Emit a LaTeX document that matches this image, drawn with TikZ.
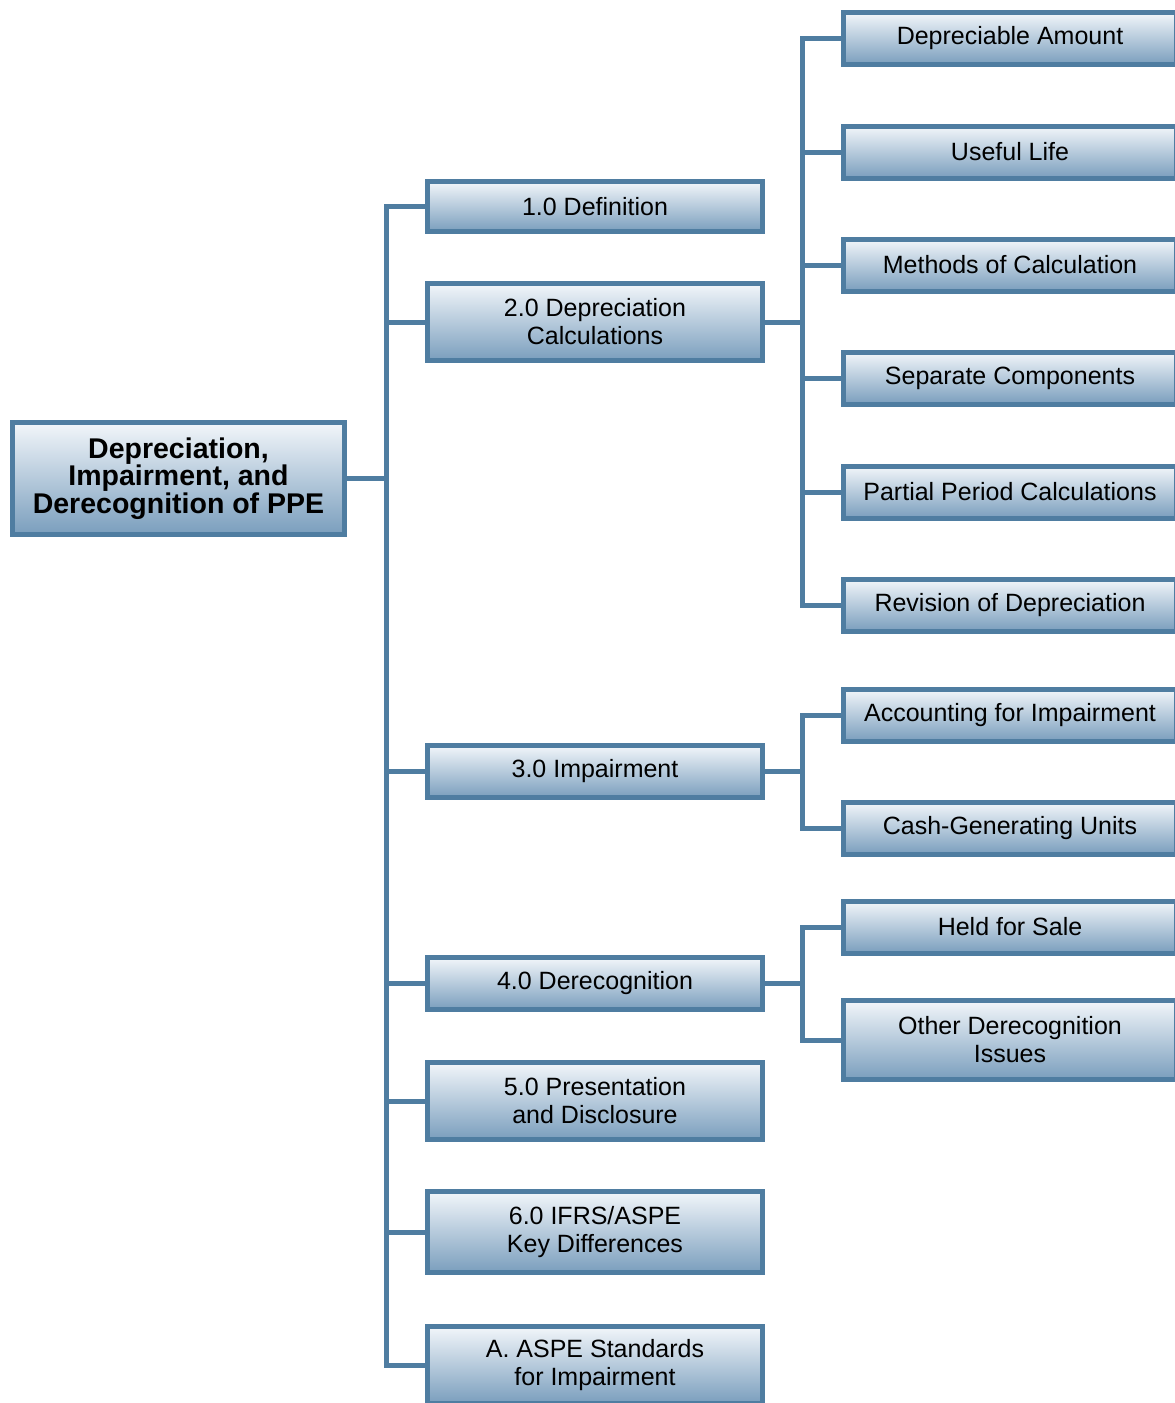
\documentclass[tikz,border=0pt]{standalone}
\usepackage{fontspec}
\setmainfont{Liberation Sans}
\usetikzlibrary{positioning}
\definecolor{boxline}{RGB}{79,125,161}
\definecolor{boxtop}{RGB}{242,246,250}
\definecolor{boxbottom}{RGB}{122,158,189}

\begin{document}
\begin{tikzpicture}[
  x=1pt, y=-1pt,
  every node/.style={draw=boxline,line width=5pt,top color=boxtop,bottom color=boxbottom,inner sep=2pt,align=center,font=\fontsize{25}{28}\selectfont},
  root/.style={minimum width=332pt,minimum height=112pt,font=\bfseries\fontsize{28.5}{27.5}\selectfont},
  part/.style={minimum width=335pt,minimum height=52pt},
  topic/.style={minimum width=333pt,minimum height=52pt},
  link/.style={draw=boxline,line width=5pt},
  ]
  \useasboundingbox (0,0) rectangle (1175,1403);

  \node[root] (root) at (178.5,478.5) {Depreciation,\\Impairment, and\\Derecognition of PPE};

  \node[part, minimum height=50pt] (def) at (595,206.5) {1.0 Definition};
  \node[part, minimum height=77pt, below = 47pt of def] (calc) {2.0 Depreciation\\Calculations};
  \node[part, below = 380pt of calc] (imp) {3.0 Impairment};
  \node[part, below = 155pt of imp] (derec) {4.0 Derecognition};
  \node[part, minimum height=77pt, below = 48pt of derec] (pres) {5.0 Presentation\\and Disclosure};
  \node[part, minimum height=81pt, below = 47pt of pres] (diff) {6.0 IFRS/ASPE\\Key Differences};
  \node[part, minimum height=77pt, below = 49pt of diff] (aspe) {A. ASPE Standards\\for Impairment};

  \node[topic] (amount) at (1010,38.5) {Depreciable Amount};
  \node[topic, below = 56.5pt of amount] (life) {Useful Life};
  \node[topic, below = 56pt of life] (methods) {Methods of Calculation};
  \node[topic, below = 56pt of methods] (comp) {Separate Components};
  \node[topic, below = 57pt of comp] (partial) {Partial Period Calculations};
  \node[topic, below = 56pt of partial] (revision) {Revision of Depreciation};
  \node[topic, below = 53pt of revision] (account) {Accounting for Impairment};
  \node[topic, below = 56pt of account] (cgu) {Cash-Generating Units};
  \node[topic, below = 42pt of cgu] (sale) {Held for Sale};
  \node[topic, minimum height=79pt, below = 42.5pt of sale] (other) {Other Derecognition\\Issues};

  \foreach \n in {def,calc,imp,derec,pres,diff,aspe}
    \draw[link] (root.east) -- ++(39,0) |- (\n.west);
  \foreach \n in {amount,life,methods,comp,partial,revision}
    \draw[link] (calc.east) -- ++(37,0) |- (\n.west);
  \foreach \n in {account,cgu}
    \draw[link] (imp.east) -- ++(37,0) |- (\n.west);
  \foreach \n in {sale,other}
    \draw[link] (derec.east) -- ++(37,0) |- (\n.west);

\end{tikzpicture}
\end{document}
